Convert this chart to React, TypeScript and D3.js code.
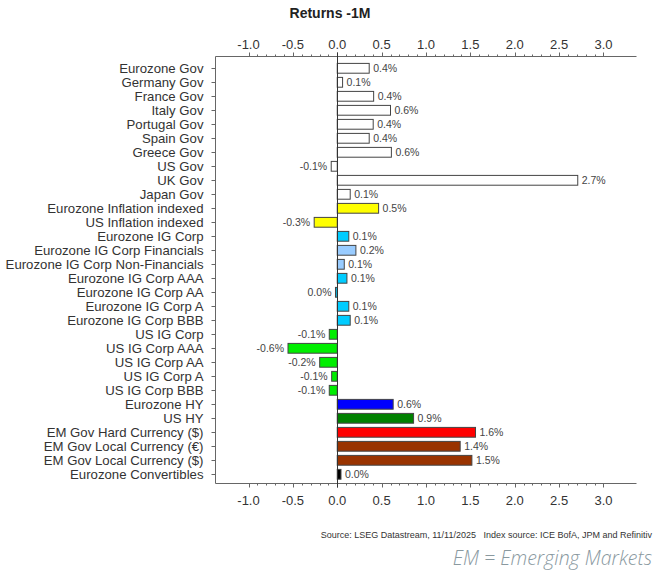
import React from "react";
import * as d3 from "d3";

const categories = [
  "Eurozone Gov", "Germany Gov", "France Gov", "Italy Gov", "Portugal Gov", "Spain Gov",
  "Greece Gov", "US Gov", "UK Gov", "Japan Gov", "Eurozone Inflation indexed",
  "US Inflation indexed", "Eurozone IG Corp", "Eurozone IG Corp Financials",
  "Eurozone IG Corp Non-Financials", "Eurozone IG Corp AAA", "Eurozone IG Corp AA",
  "Eurozone IG Corp A", "Eurozone IG Corp BBB", "US IG Corp", "US IG Corp AAA",
  "US IG Corp AA", "US IG Corp A", "US IG Corp BBB", "Eurozone HY", "US HY",
  "EM Gov Hard Currency ($)", "EM Gov Local Currency (€)", "EM Gov Local Currency ($)",
  "Eurozone Convertibles",
];

const values = [
  0.36, 0.06, 0.41, 0.6, 0.405, 0.36, 0.61, -0.068, 2.71, 0.146, 0.466, -0.26,
  0.13, 0.21, 0.079, 0.109, -0.02, 0.13, 0.146, -0.09, -0.555, -0.198, -0.063, -0.09,
  0.63, 0.86, 1.558, 1.385, 1.517, 0.042,
];

const colors = [
  "#ffffff", "#ffffff", "#ffffff", "#ffffff", "#ffffff", "#ffffff", "#ffffff", "#ffffff",
  "#ffffff", "#ffffff", "#ffff00", "#ffff00", "#00ccff", "#99ccff", "#99ccff", "#00ccff",
  "#00ccff", "#00ccff", "#00ccff", "#00ee00", "#00ee00", "#00ee00", "#00ee00", "#00ee00",
  "#0000ff", "#008000", "#ff0000", "#993300", "#993300", "#000000",
];

const majorTicks = [-1.0, -0.5, 0.0, 0.5, 1.0, 1.5, 2.0, 2.5, 3.0];
const minorTicks = d3.range(-10, 31).map((i) => i / 10);

const title = "Returns -1M";
const sourceText = "Source: LSEG Datastream, 11/11/2025   Index source: ICE BofA, JPM and Refinitiv";
const noteText = "EM = Emerging Markets";

const W = 654;
const H = 573;
const plotLeft = 215.5;
const plotRight = 636.5;
const plotTop = 56.5;
const plotBottom = 483.5;
const font = "'Liberation Sans', Arial, sans-serif";

function fmt(v: number) {
  const r = Math.round(v * 10) / 10;
  const s = (Math.abs(r) < 1e-9 ? 0 : r).toFixed(1);
  return s + "%";
}

export default function App() {
  const x = d3.scaleLinear().domain([-1.372, 3.372]).range([plotLeft, plotRight]);
  const y = d3
    .scaleBand<string>()
    .domain(categories)
    .range([61.3, 481.3])
    .paddingInner(0.3)
    .paddingOuter(0.15);
  const x0 = x(0);

  return (
    <svg width={W} height={H} style={{ position: "absolute", left: 0, top: 0, background: "#fff" }}>
      <text x={330} y={18} textAnchor="middle" fontFamily={font} fontWeight="bold" fontSize={14} fill="#222">
        {title}
      </text>

      {/* axes lines */}
      <line x1={plotLeft} x2={plotRight} y1={plotTop} y2={plotTop} stroke="#666" />
      <line x1={plotLeft} x2={plotRight} y1={plotBottom} y2={plotBottom} stroke="#666" />
      <line x1={plotLeft} x2={plotLeft} y1={plotTop} y2={plotBottom} stroke="#666" />

      {/* minor ticks */}
      {minorTicks.map((t) => (
        <g key={"m" + t}>
          <line x1={Math.round(x(t)) + 0.5} x2={Math.round(x(t)) + 0.5} y1={plotTop} y2={plotTop - 2} stroke="#666" />
          <line x1={Math.round(x(t)) + 0.5} x2={Math.round(x(t)) + 0.5} y1={plotBottom} y2={plotBottom + 2} stroke="#666" />
        </g>
      ))}
      {majorTicks.map((t) => (
        <g key={"M" + t}>
          <line x1={Math.round(x(t)) + 0.5} x2={Math.round(x(t)) + 0.5} y1={plotTop} y2={plotTop - 4} stroke="#666" />
          <line x1={Math.round(x(t)) + 0.5} x2={Math.round(x(t)) + 0.5} y1={plotBottom} y2={plotBottom + 4} stroke="#666" />
          <text x={x(t)} y={48.5} textAnchor="middle" fontFamily={font} fontSize={13} fill="#333">
            {t.toFixed(1)}
          </text>
          <text x={x(t)} y={505} textAnchor="middle" fontFamily={font} fontSize={13} fill="#333">
            {t.toFixed(1)}
          </text>
        </g>
      ))}

      {/* category ticks and labels */}
      {categories.map((c) => {
        const cy = (y(c) as number) + y.bandwidth() / 2;
        return (
          <g key={"c" + c}>
            <line x1={plotLeft - 4} x2={plotLeft} y1={Math.round(cy) + 0.5} y2={Math.round(cy) + 0.5} stroke="#666" />
            <text x={plotLeft - 12} y={cy} dy="0.35em" textAnchor="end" fontFamily={font} fontSize={13.2} fill="#333">
              {c}
            </text>
          </g>
        );
      })}

      {/* bars */}
      {categories.map((c, i) => {
        const v = values[i];
        const by = y(c) as number;
        const bx = Math.min(x(v), x0);
        const bw = Math.abs(x(v) - x0);
        const cy = by + y.bandwidth() / 2;
        return (
          <g key={"b" + c}>
            <rect x={bx} y={by} width={bw} height={y.bandwidth()} fill={colors[i]} stroke="#444" strokeWidth={1} />
            <text
              x={v >= 0 ? x(v) + 4 : x(v) - 4}
              y={cy}
              dy="0.35em"
              textAnchor={v >= 0 ? "start" : "end"}
              fontFamily={font}
              fontSize={10.5}
              fill="#444"
            >
              {fmt(v)}
            </text>
          </g>
        );
      })}

      {/* zero line */}
      <line x1={Math.round(x0) + 0.5} x2={Math.round(x0) + 0.5} y1={plotTop - 4} y2={plotBottom + 4} stroke="#333" />

      <text x={652} y={538} textAnchor="end" fontFamily={font} fontSize={9} fill="#333" style={{ whiteSpace: "pre" }}>
        {sourceText}
      </text>
      <text x={652} y={565} textAnchor="end" fontFamily="'Open Sans', sans-serif" fontStyle="italic" fontWeight={300} fontSize={19.5} fill="#8a999f">
        {noteText}
      </text>
    </svg>
  );
}
